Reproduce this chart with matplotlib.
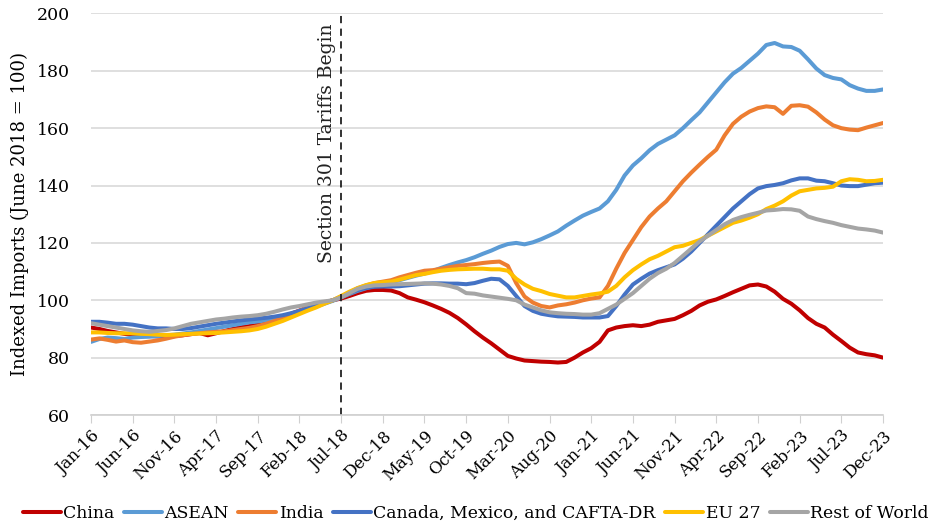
import pandas as pd
import matplotlib.pyplot as plt

# Monthly index values, Jan-2016 .. Dec-2023 (June 2018 = 100)
months = pd.date_range('2016-01-01', '2023-12-01', freq='MS')
month_labels = [d.strftime('%b-%y') for d in months]

china = [90.5, 90.0, 89.3, 88.8, 88.3, 88.0, 87.8, 87.6, 87.4, 87.3,
         87.5, 87.8, 88.2, 88.6, 87.8, 88.5, 89.3, 90.0, 90.6, 91.0,
         91.5, 92.3, 93.2, 94.2, 95.3, 96.4, 97.5, 98.5, 99.2, 100.0,
         100.6, 101.5, 102.5, 103.3, 103.6, 103.6, 103.4, 102.5, 101.0, 100.2,
         99.3, 98.2, 97.0, 95.6, 93.8, 91.6, 89.2, 87.0, 85.0, 82.8,
         80.6, 79.7, 79.0, 78.8, 78.6, 78.5, 78.3, 78.5, 80.0, 81.8,
         83.3, 85.5, 89.5, 90.5, 91.0, 91.3, 91.0, 91.5, 92.5, 93.0,
         93.5, 94.8, 96.3, 98.2, 99.5, 100.3, 101.5, 102.8, 104.0, 105.2,
         105.5, 104.8, 103.0, 100.5, 98.8, 96.5, 93.8, 91.8, 90.5, 88.0,
         85.8, 83.5, 81.8, 81.2, 80.8, 80.0]
asean = [85.5, 86.5, 87.0, 86.8, 86.5, 87.0, 87.2, 87.3, 87.5, 87.8,
         88.0, 88.4, 88.8, 89.3, 89.8, 90.3, 90.8, 91.3, 91.8, 92.3,
         92.6, 93.0, 93.5, 94.2, 95.0, 95.8, 96.8, 97.8, 98.8, 99.8,
         101.0, 102.2, 103.3, 104.2, 105.0, 105.6, 106.2, 107.0, 107.8, 108.6,
         109.3, 110.2, 111.3, 112.3, 113.2, 114.0, 115.0, 116.2, 117.3, 118.6,
         119.6, 120.0, 119.5, 120.2, 121.3, 122.6, 124.0, 126.0, 127.8, 129.5,
         130.8, 132.0, 134.5, 138.5, 143.5, 147.0, 149.5, 152.3, 154.5, 156.0,
         157.5, 160.0, 162.8, 165.5, 169.0, 172.5, 176.0, 179.0, 181.0, 183.5,
         186.0, 189.0, 189.7, 188.5, 188.3, 187.0, 184.0, 180.8, 178.5, 177.5,
         177.0, 175.0, 173.8, 173.0, 173.0, 173.5]
india = [86.3, 86.7, 86.2, 85.6, 86.0, 85.4, 85.2, 85.6, 86.0, 86.6,
         87.3, 87.8, 88.2, 88.5, 88.8, 89.0, 89.2, 89.6, 90.0, 90.4,
         91.0, 91.8, 92.8, 94.0, 95.2, 96.3, 97.5, 98.5, 99.3, 100.0,
         101.3, 102.8, 104.2, 105.2, 106.0, 106.5, 107.0, 108.0, 108.8, 109.6,
         110.3, 110.5, 111.0, 111.5, 112.0, 112.3, 112.6, 113.0, 113.3, 113.5,
         112.0, 106.0, 101.3, 99.2, 98.0, 97.5, 98.2, 98.6, 99.2, 100.0,
         100.6, 101.0, 105.0, 111.0, 116.5, 121.0, 125.5, 129.2, 132.0, 134.5,
         138.0, 141.5, 144.5, 147.3, 150.0, 152.5, 157.5, 161.5, 164.0, 165.8,
         167.0, 167.6, 167.3, 165.0, 167.8, 168.0, 167.5, 165.5, 163.0, 161.0,
         160.0, 159.5, 159.3, 160.2, 161.0, 161.8]
camex = [92.5, 92.5, 92.2, 91.8, 91.8, 91.5, 91.0, 90.5, 90.2, 90.2,
         90.0, 90.0, 90.3, 90.8, 91.3, 91.8, 92.2, 92.6, 93.0, 93.3,
         93.6, 93.9, 94.3, 94.8, 95.5, 96.3, 97.2, 98.2, 99.0, 100.0,
         101.2, 102.5, 103.6, 104.3, 104.7, 104.8, 104.8, 104.9, 105.2, 105.5,
         105.8, 105.9, 105.9, 105.8, 105.8, 105.6, 106.0, 106.8, 107.5, 107.3,
         105.0, 101.5, 98.0, 96.3, 95.3, 94.8, 94.4, 94.3, 94.2, 94.0,
         94.0, 94.0, 94.5, 98.0, 102.0, 105.5, 107.5, 109.3, 110.5, 111.5,
         112.5, 114.5, 117.0, 120.0, 123.0, 126.0, 129.0, 132.0, 134.5, 137.0,
         139.0, 139.8, 140.2, 140.8, 141.8, 142.5, 142.5, 141.7, 141.5, 140.8,
         140.0, 139.8, 139.8, 140.3, 140.8, 141.0]
eu27 = [88.8, 88.8, 88.6, 88.5, 88.5, 88.5, 88.3, 88.2, 88.0, 87.9,
        88.0, 88.2, 88.3, 88.4, 88.5, 88.6, 88.8, 89.0, 89.2, 89.5,
        90.0, 90.8, 91.8, 92.8, 94.0, 95.2, 96.4, 97.5, 98.8, 100.0,
        101.5, 103.0, 104.3, 105.3, 106.0, 106.3, 106.5, 107.2, 108.0, 108.8,
        109.2, 109.8, 110.3, 110.6, 110.8, 110.9, 111.0, 111.0, 110.8, 110.8,
        110.3, 107.5, 105.5, 104.0, 103.2, 102.2, 101.6, 101.0, 101.0, 101.5,
        102.0, 102.4, 103.0, 105.0, 108.0, 110.5, 112.5, 114.3, 115.5, 117.0,
        118.5, 119.0, 120.0, 121.0, 122.5, 124.0, 125.5, 127.0, 127.8, 128.8,
        130.0, 131.8, 133.0, 134.5, 136.5, 138.0, 138.5, 139.0, 139.2, 139.6,
        141.5, 142.2, 142.0, 141.5, 141.6, 142.0]
rest = [92.0, 91.5, 91.0, 90.5, 90.0, 89.5, 89.2, 89.0, 89.3, 89.6,
        90.2, 91.0, 91.8, 92.3, 92.8, 93.3, 93.6, 94.0, 94.3, 94.5,
        94.8, 95.3, 96.0, 96.8, 97.5, 98.0, 98.6, 99.2, 99.6, 100.0,
        101.0, 102.5, 104.0, 104.8, 105.2, 105.3, 105.5, 105.6, 105.7, 105.8,
        105.9, 105.8, 105.5, 105.0, 104.2, 102.5, 102.3, 101.7, 101.3, 100.9,
        100.5, 100.0, 98.5, 97.5, 96.5, 95.8, 95.5, 95.3, 95.2, 95.0,
        95.0, 95.5, 97.0, 98.5, 100.5, 102.5, 105.0, 107.5, 109.5, 111.0,
        113.0, 115.5, 118.0, 120.5, 122.5, 124.5, 126.5, 128.0, 129.0, 129.8,
        130.5, 131.3, 131.5, 131.8, 131.7, 131.2, 129.2, 128.3, 127.6, 127.0,
        126.2, 125.6, 125.0, 124.7, 124.3, 123.6]

series = [('China', china, '#C00000'),
          ('ASEAN', asean, '#5B9BD5'),
          ('India', india, '#ED7D31'),
          ('Canada, Mexico, and CAFTA-DR', camex, '#4472C4'),
          ('EU 27', eu27, '#FFC000'),
          ('Rest of World', rest, '#A5A5A5')]

plt.rcParams['font.family'] = ['DejaVu Serif']

fig = plt.figure(figsize=(9.42, 5.27), dpi=100)
ax = fig.add_axes([0.0966, 0.2125, 0.8408, 0.762])

x = list(range(len(months)))
for name, vals, col in series:
    ax.plot(x, vals, color=col, lw=2.9, label=name, solid_capstyle='round')

# tariff marker
tariff_idx = month_labels.index('Jul-18')
ax.axvline(tariff_idx, color='#222222', lw=1.3, ls=(0, (4, 3)))
ax.text(tariff_idx - 0.6, 196.5, 'Section 301 Tariffs Begin', rotation=90,
        ha='right', va='top', fontsize=13.5, color='#222222')

ax.set_xlim(0, len(months) - 1)
ax.set_ylim(60, 200)
ax.set_yticks(range(60, 201, 20))
ax.set_xticks(x[::5])
ax.set_xticklabels(month_labels[::5], rotation=45, ha='right',
                   rotation_mode='anchor', fontsize=12)
ax.tick_params(axis='y', length=0, labelsize=12.5, pad=15)
ax.tick_params(axis='x', length=6, color='#D0D0D0', pad=3)
ax.grid(axis='y', color='#D9D9D9', lw=1.2)
ax.set_axisbelow(True)
for s in ['top', 'right', 'left']:
    ax.spines[s].set_visible(False)
ax.spines['bottom'].set_color('#D0D0D0')
ax.spines['bottom'].set_linewidth(1.2)

ax.set_ylabel('Indexed Imports (June 2018 = 100)', fontsize=13, labelpad=6)

fig.legend(loc='lower center', bbox_to_anchor=(0.505, -0.01), ncol=6,
           frameon=False, fontsize=12.4, handlelength=2.2,
           handletextpad=0.15, columnspacing=0.55, borderaxespad=0.2)

fig.savefig('out.png', dpi=100)
